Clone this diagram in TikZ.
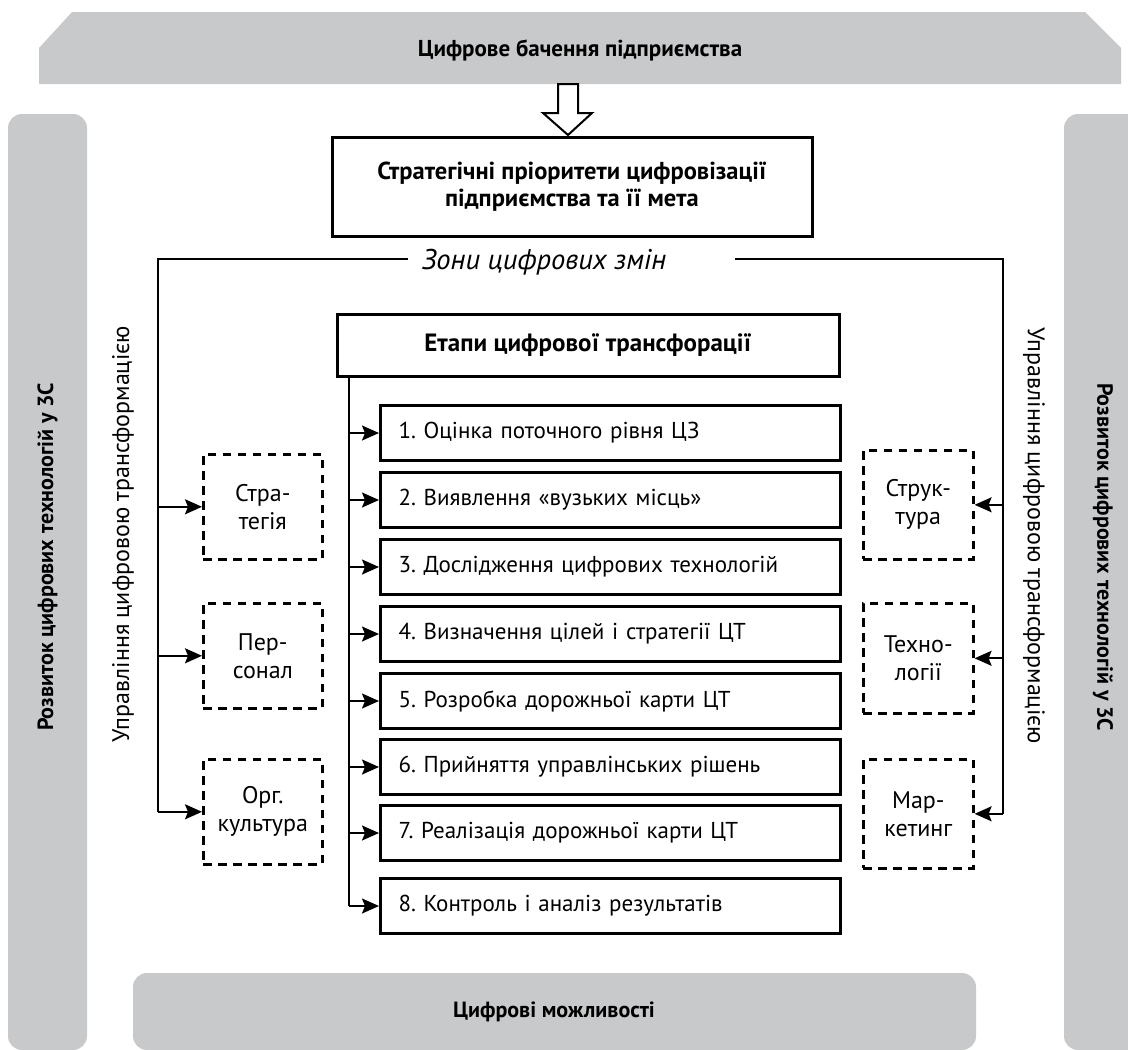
\documentclass[tikz,border=0pt]{standalone}
\usepackage{fontspec}
\setmainfont{PT Sans}
\usetikzlibrary{arrows.meta,calc}
\definecolor{bargray}{RGB}{200,201,203}
\frenchspacing
\begin{document}
\begin{tikzpicture}[x=1pt,y=-1pt,
  txt/.style={font=\fontsize{23}{27}\selectfont},
  btxt/.style={font=\fontsize{22}{27}\selectfont\bfseries},
  solidbox/.style={draw, line width=3pt, fill=white, align=center},
  stepbox/.style={draw, line width=3pt, minimum height=55pt, text width=424pt, inner xsep=18pt, inner ysep=0pt, align=left, anchor=north west, txt},
  zonebox/.style={draw, dash pattern=on 8.5pt off 6.5pt, line width=2.6pt, anchor=north west, align=center, inner sep=0pt, font=\fontsize{24}{28}\selectfont},
  conn/.style={line width=1.8pt},
  arr/.style={conn, -{Stealth[length=17pt,width=15pt,inset=3pt]}},
]
\useasboundingbox (0,0) rectangle (1128,1050);
% gray frames
\fill[bargray] (72,12) -- (1085,12) -- (1121,48) -- (1121,84) -- (39,84) -- (39,48) -- cycle;
\node (vision) [font=\fontsize{23}{27}\selectfont\bfseries] at (580,50) {Цифрове бачення підприємства};
\fill[bargray, rounded corners=14pt] (8,114) rectangle (87,1050);
\fill[bargray, rounded corners=14pt] (1064,114) rectangle (1143,1050);
\fill[bargray, rounded corners=14pt] (133,973) rectangle (976,1050);
\node (opps) [btxt] at (554,1012) {Цифрові можливості};
\node (devL) [btxt, rotate=90] at (47.5,557) {Розвиток цифрових технологій у 3С};
\node (devR) [btxt, rotate=-90] at (1103,557) {Розвиток цифрових технологій у 3С};
% hollow arrow
\draw[line width=2pt, fill=white, line join=miter] (558,84) -- (558,113) -- (543,113) -- (568,135) -- (592,113) -- (578,113) -- (578,84) -- cycle;
% priorities
\node (prio) [solidbox, font=\fontsize{24.5}{27}\selectfont\bfseries, minimum width=480pt, minimum height=99pt] at (572,186.5) {Стратегічні пріоритети цифровізації\\підприємства та її мета};
\node (zone) [font=\fontsize{28.5}{30}\selectfont\itshape] at (544,262) {Зони цифрових змін};
% management labels
\node (mgL) [font=\fontsize{24}{28}\selectfont, rotate=90] at (123,534) {Управління цифровою трансформацією};
\node (mgR) [font=\fontsize{24}{28}\selectfont, rotate=-90] at (1034,536) {Управління цифровою трансформацією};
% stages
\node (etapy) [solidbox, font=\fontsize{25}{28}\selectfont\bfseries, minimum width=502pt, minimum height=62pt] at (588,345) {Етапи цифрової трансфорації};
\node (s1) [stepbox] at (379,404) {1. Оцінка поточного рівня ЦЗ};
\node (s2) [stepbox] at (379,471) {2. Виявлення «вузьких місць»};
\node (s3) [stepbox] at (379,538) {3. Дослідження цифрових технологій};
\node (s4) [stepbox] at (379,605) {4. Визначення цілей і стратегії ЦТ};
\node (s5) [stepbox] at (379,672) {5. Розробка дорожньої карти ЦТ};
\node (s6) [stepbox] at (379,738) {6. Прийняття управлінських рішень};
\node (s7) [stepbox] at (379,804) {7. Реалізація дорожньої карти ЦТ};
\node (s8) [stepbox] at (379,877) {8. Контроль і аналіз результатів};
% zones
\node (strat) [zonebox, minimum width=119pt, minimum height=105pt] at (202,453) {Стра-\\тегія};
\node (pers) [zonebox, minimum width=119pt, minimum height=105pt] at (202,602) {Пер-\\сонал};
\node (org) [zonebox, minimum width=119pt, minimum height=105pt] at (202,758) {Орг.\\культура};
\node (struct) [zonebox, minimum width=110pt, minimum height=109pt] at (862,449) {Струк-\\тура};
\node (tech) [zonebox, minimum width=110pt, minimum height=110pt] at (862,602) {Техно-\\логії};
\node (mark) [zonebox, minimum width=110pt, minimum height=109pt] at (862,758) {Мар-\\кетинг};
% connectors
\coordinate (zl) at (408,259);
\coordinate (zr) at (735,259);
\coordinate (lc) at (158,259);
\coordinate (rc) at (1003,259);
\coordinate (trx) at (349,376);
\draw[conn] (zl) -- (lc) -- (lc |- org.west);
\draw[conn] (zr) -- (rc) -- (rc |- mark.east);
\draw[arr] (lc |- strat.west) -- (strat.west);
\draw[arr] (lc |- pers.west) -- (pers.west);
\draw[arr] (lc |- org.west) -- (org.west);
\draw[arr] (rc |- struct.east) -- (struct.east);
\draw[arr] (rc |- tech.east) -- (tech.east);
\draw[arr] (rc |- mark.east) -- (mark.east);
\draw[conn] (trx) -- (trx |- s8.west);
\foreach \s in {s1,s2,s3,s4,s5,s6,s7,s8}{
  \draw[arr] (trx |- \s.west) -- (\s.west);
}
\end{tikzpicture}
\end{document}
